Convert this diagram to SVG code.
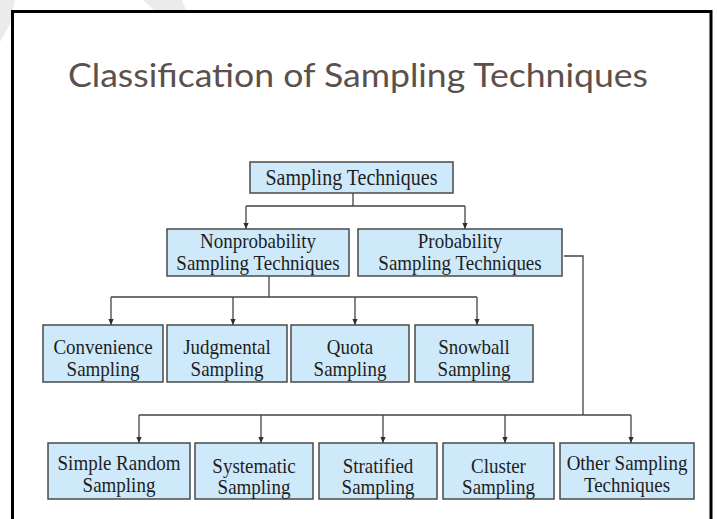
<svg xmlns="http://www.w3.org/2000/svg" width="717" height="519" viewBox="0 0 717 519">
  <defs>
    <marker id="arrow" viewBox="0 0 6 6" refX="6" refY="3" markerWidth="6" markerHeight="6" markerUnits="userSpaceOnUse" orient="auto">
      <path d="M0,0.4 L6,3 L0,5.6 Z" fill="#2e2e2e"/>
    </marker>
    <style>
      .box { fill: #cee9fa; stroke: #4a4a4a; stroke-width: 1.5; }
      .lbl { font-family: "Liberation Serif", "Times New Roman", serif; font-size: 19px; fill: #1e1e1e; text-anchor: middle; }
      .big { font-size: 20px; }
      .wire { fill: none; stroke: #444; stroke-width: 1.3; }
      .tip { marker-end: url(#arrow); }
      .title { font-family: Lato, "Open Sans", sans-serif; font-size: 33px; fill: #5c504c; }
    </style>
  </defs>

  <rect width="717" height="519" fill="#ffffff"/>

  <!-- faint background marks -->
  <g fill="#ebebeb">
    <polygon points="0,0 15,0 10,24 0,42"/>
    <polygon points="143,0 182,0 187,13 157,13"/>
  </g>

  <!-- slide frame -->
  <path d="M12.5,530 L12.5,11.5 L711,11.5 L711,530" fill="none" stroke="#000" stroke-width="3"/>

  <text class="title" x="68" y="87" textLength="580" lengthAdjust="spacingAndGlyphs">Classification of Sampling Techniques</text>

  <!-- connectors -->
  <g id="connectors">
    <path class="wire" d="M353,193 V206 M246,206 H465"/>
    <path class="wire tip" d="M246,206 V229"/>
    <path class="wire tip" d="M465,206 V229"/>

    <path class="wire" d="M269,276 V297 M111,297 H477"/>
    <path class="wire tip" d="M111,297 V325"/>
    <path class="wire tip" d="M233,297 V325"/>
    <path class="wire tip" d="M355,297 V325"/>
    <path class="wire tip" d="M477,297 V325"/>

    <path class="wire" d="M564,256 H583 V415 M139,415 H631"/>
    <path class="wire tip" d="M139,415 V443"/>
    <path class="wire tip" d="M261,415 V443"/>
    <path class="wire tip" d="M383,415 V443"/>
    <path class="wire tip" d="M505,415 V443"/>
    <path class="wire tip" d="M631,415 V443"/>
  </g>

  <!-- labels are set in Times, drawn slightly tall -->
  <g id="sampling-techniques">
    <rect class="box" x="250" y="162" width="203" height="31"/>
    <text class="lbl big" transform="translate(351.5,185) scale(1,1.12)">Sampling Techniques</text>
  </g>

  <g id="nonprobability">
    <rect class="box" x="167" y="229" width="182" height="47"/>
    <text class="lbl" transform="translate(258,248) scale(1,1.12)">Nonprobability</text>
    <text class="lbl" transform="translate(258,270) scale(1,1.12)">Sampling Techniques</text>
  </g>

  <g id="probability">
    <rect class="box" x="358" y="229" width="204" height="47"/>
    <text class="lbl" transform="translate(460,248) scale(1,1.12)">Probability</text>
    <text class="lbl" transform="translate(460,270) scale(1,1.12)">Sampling Techniques</text>
  </g>

  <g id="convenience">
    <rect class="box" x="43" y="325" width="120" height="57"/>
    <text class="lbl" transform="translate(103,354) scale(1,1.12)">Convenience</text>
    <text class="lbl" transform="translate(103,376) scale(1,1.12)">Sampling</text>
  </g>

  <g id="judgmental">
    <rect class="box" x="167" y="325" width="120" height="57"/>
    <text class="lbl" transform="translate(227,354) scale(1,1.12)">Judgmental</text>
    <text class="lbl" transform="translate(227,376) scale(1,1.12)">Sampling</text>
  </g>

  <g id="quota">
    <rect class="box" x="291" y="325" width="118" height="57"/>
    <text class="lbl" transform="translate(350,354) scale(1,1.12)">Quota</text>
    <text class="lbl" transform="translate(350,376) scale(1,1.12)">Sampling</text>
  </g>

  <g id="snowball">
    <rect class="box" x="415" y="325" width="118" height="57"/>
    <text class="lbl" transform="translate(474,354) scale(1,1.12)">Snowball</text>
    <text class="lbl" transform="translate(474,376) scale(1,1.12)">Sampling</text>
  </g>

  <g id="simple-random">
    <rect class="box" x="48" y="443" width="142" height="56"/>
    <text class="lbl" transform="translate(119,470) scale(1,1.12)">Simple Random</text>
    <text class="lbl" transform="translate(119,492) scale(1,1.12)">Sampling</text>
  </g>

  <g id="systematic">
    <rect class="box" x="195" y="443" width="118" height="56"/>
    <text class="lbl" transform="translate(254,473) scale(1,1.12)">Systematic</text>
    <text class="lbl" transform="translate(254,494) scale(1,1.12)">Sampling</text>
  </g>

  <g id="stratified">
    <rect class="box" x="319" y="443" width="118" height="56"/>
    <text class="lbl" transform="translate(378,473) scale(1,1.12)">Stratified</text>
    <text class="lbl" transform="translate(378,494) scale(1,1.12)">Sampling</text>
  </g>

  <g id="cluster">
    <rect class="box" x="443" y="443" width="111" height="56"/>
    <text class="lbl" transform="translate(498.5,473) scale(1,1.12)">Cluster</text>
    <text class="lbl" transform="translate(498.5,494) scale(1,1.12)">Sampling</text>
  </g>

  <g id="other">
    <rect class="box" x="560" y="443" width="134" height="56"/>
    <text class="lbl" transform="translate(627,470) scale(1,1.12)">Other Sampling</text>
    <text class="lbl" transform="translate(627,492) scale(1,1.12)">Techniques</text>
  </g>
</svg>
